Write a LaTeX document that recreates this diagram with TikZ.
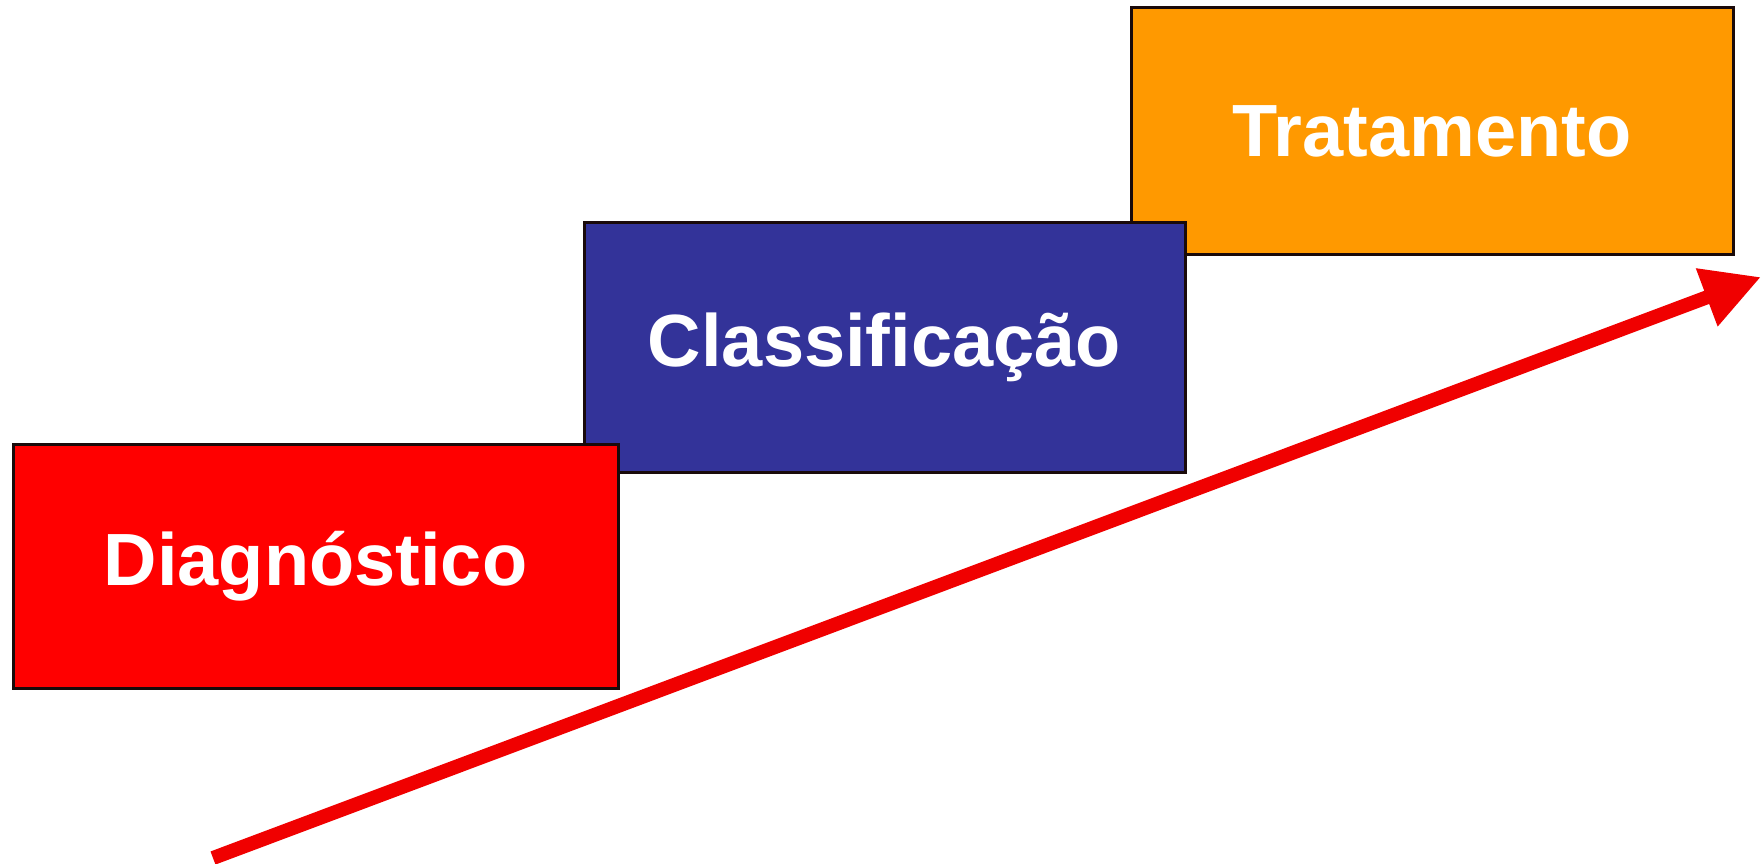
\documentclass[tikz,border=0pt]{standalone}
\usepackage{fontspec}
\setmainfont{Liberation Sans}
\usetikzlibrary{arrows.meta}
\definecolor{boxorange}{HTML}{FF9900}
\definecolor{boxblue}{HTML}{333399}
\definecolor{boxred}{HTML}{FF0000}
\definecolor{arrowred}{HTML}{F00000}
\definecolor{edgedark}{HTML}{1A0A0A}
\begin{document}
\begin{tikzpicture}[x=1pt,y=-1pt,
  stagebox/.style={draw=edgedark, line width=3pt, minimum width=602pt, minimum height=247pt,
    inner sep=0pt, text=white, font=\bfseries\fontsize{74}{80}\selectfont},
  bigarrow/.style={draw=arrowred, line width=14pt, -{Triangle[length=58pt,width=58pt]}}]
\useasboundingbox (0,0) rectangle (1761,864);
\fill[white] (0,0) rectangle (1761,864);
\node[stagebox, fill=boxorange] (trat) at (1432,131) {Tratamento};
\node[stagebox, fill=boxblue, minimum width=601pt, minimum height=250pt] (class) at (884.5,347) {Classificação};
\node[stagebox, fill=boxred, minimum width=605pt, minimum height=244pt] (diag) at (315.5,566) {Diagnóstico};
\coordinate (tail) at (213,858);
\coordinate (tip) at (1761,277);
\draw[bigarrow] (tail) -- (tip);
\end{tikzpicture}
\end{document}
